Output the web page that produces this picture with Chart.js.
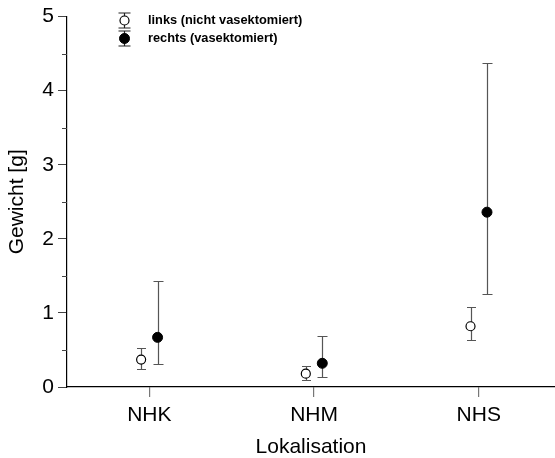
<!DOCTYPE html>
<html>
<head>
<meta charset="utf-8">
<script src="https://cdn.jsdelivr.net/npm/chart.js@4/dist/chart.umd.min.js"></script>
<style>
  html, body { margin: 0; padding: 0; background: #fff; }
  #wrap { width: 555px; height: 458px; }
</style>
</head>
<body>
<div id="wrap"><canvas id="c" width="555" height="458"></canvas></div>
<script>
// Gewicht je Lokalisation: Mittelwert mit Fehlerbereich
const categories = ['NHK', 'NHM', 'NHS'];

const linksMean = [0.37, 0.18, 0.82];
const linksLow  = [0.24, 0.10, 0.63];
const linksHigh = [0.53, 0.29, 1.08];

const rechtsMean = [0.67, 0.32, 2.36];
const rechtsLow  = [0.31, 0.14, 1.26];
const rechtsHigh = [1.43, 0.69, 4.38];

const yTicks = [0, 1, 2, 3, 4, 5];
const yMinorTicks = [0.5, 1.5, 2.5, 3.5, 4.5];

const legendLabels = ['links (nicht vasektomiert)', 'rechts (vasektomiert)'];

const FONT = '"Liberation Sans", Arial, sans-serif';
const SHIFT = 0.05; // horizontal offset of the two groups within a category

function points(means, lows, highs, dir) {
  return means.map((m, i) => ({ x: i + 0.5 + dir * SHIFT, y: m, lo: lows[i], hi: highs[i] }));
}

// error bars drawn behind the markers
const errorBars = {
  id: 'errorBars',
  beforeDatasetsDraw(chart) {
    const { ctx, scales: { x, y } } = chart;
    ctx.save();
    ctx.strokeStyle = '#555';
    ctx.lineWidth = 1.2;
    chart.data.datasets.forEach(ds => {
      const cap = ds.capHalf;
      ds.data.forEach(p => {
        const px = Math.round(x.getPixelForValue(p.x)) + 0.5;
        const yl = Math.round(y.getPixelForValue(p.lo)) + 0.5;
        const yh = Math.round(y.getPixelForValue(p.hi)) + 0.5;
        ctx.beginPath();
        ctx.moveTo(px, yl); ctx.lineTo(px, yh);
        ctx.moveTo(px - cap, yl); ctx.lineTo(px + cap, yl);
        ctx.moveTo(px - cap, yh); ctx.lineTo(px + cap, yh);
        ctx.stroke();
      });
    });
    ctx.restore();
  }
};

// minor ticks on the value axis
const minorTicks = {
  id: 'minorTicks',
  afterDraw(chart) {
    const { ctx, scales: { y }, chartArea } = chart;
    ctx.save();
    ctx.strokeStyle = '#444';
    ctx.lineWidth = 1;
    yMinorTicks.forEach(v => {
      const py = Math.round(y.getPixelForValue(v)) + 0.5;
      ctx.beginPath();
      ctx.moveTo(chartArea.left - 5, py);
      ctx.lineTo(chartArea.left, py);
      ctx.stroke();
    });
    ctx.restore();
  }
};

// legend with error-bar symbols
const symbolLegend = {
  id: 'symbolLegend',
  afterDraw(chart) {
    const { ctx } = chart;
    const sx = 124.5, tx = 148, rows = [20.5, 38.5];
    ctx.save();
    chart.data.datasets.forEach((ds, i) => {
      const cy = rows[i];
      ctx.strokeStyle = '#222';
      ctx.lineWidth = 1.2;
      ctx.beginPath();
      ctx.moveTo(sx, cy - 7.5); ctx.lineTo(sx, cy + 7.5);
      ctx.moveTo(sx - 6, cy - 7.5); ctx.lineTo(sx + 6, cy - 7.5);
      ctx.moveTo(sx - 6, cy + 7.5); ctx.lineTo(sx + 6, cy + 7.5);
      ctx.stroke();
      ctx.beginPath();
      ctx.arc(sx, cy, ds.pointRadius, 0, Math.PI * 2);
      ctx.fillStyle = ds.pointBackgroundColor;
      ctx.fill();
      ctx.lineWidth = ds.pointBorderWidth;
      ctx.strokeStyle = '#000';
      ctx.stroke();
      ctx.fillStyle = '#000';
      ctx.font = 'bold 12.8px ' + FONT;
      ctx.textBaseline = 'middle';
      ctx.textAlign = 'left';
      ctx.fillText(legendLabels[i], tx, cy);
    });
    ctx.restore();
  }
};

new Chart(document.getElementById('c'), {
  type: 'scatter',
  data: {
    datasets: [
      {
        label: legendLabels[0],
        data: points(linksMean, linksLow, linksHigh, -1),
        pointRadius: 4.5,
        pointBorderWidth: 1.2,
        pointBackgroundColor: '#fff',
        pointBorderColor: '#000',
        capHalf: 4.5
      },
      {
        label: legendLabels[1],
        data: points(rechtsMean, rechtsLow, rechtsHigh, 1),
        pointRadius: 5,
        pointBorderWidth: 1,
        pointBackgroundColor: '#000',
        pointBorderColor: '#000',
        capHalf: 5
      }
    ]
  },
  options: {
    responsive: false,
    animation: false,
    devicePixelRatio: 1,
    layout: { autoPadding: false, padding: { top: 15, right: 0, bottom: 0, left: 0 } },
    plugins: {
      legend: { display: false },
      tooltip: { enabled: false }
    },
    scales: {
      x: {
        type: 'linear',
        min: 0,
        max: 2.963,
        afterBuildTicks(scale) {
          scale.ticks = categories.map((c, i) => ({ value: i + 0.5 }));
        },
        afterFit(scale) {
          scale.height = 71;
          scale.paddingLeft = 0;
          scale.paddingRight = 0;
        },
        border: { display: true, color: '#000', width: 1.2 },
        grid: { drawOnChartArea: false, drawTicks: true, tickLength: 10, color: '#777', lineWidth: 1.2 },
        ticks: {
          autoSkip: false,
          maxRotation: 0,
          padding: 6,
          color: '#000',
          font: { family: FONT, size: 21 },
          callback(v) { return categories[Math.round(v - 0.5)]; }
        },
        title: {
          display: true,
          text: 'Lokalisation',
          color: '#000',
          font: { family: FONT, size: 21, lineHeight: 1 },
          padding: { top: 0, bottom: 0 }
        }
      },
      y: {
        min: 0,
        max: 5,
        afterBuildTicks(scale) {
          scale.ticks = yTicks.map(v => ({ value: v }));
        },
        afterFit(scale) { scale.width = 67; },
        border: { display: true, color: '#000', width: 1.2 },
        grid: { drawOnChartArea: false, drawTicks: true, tickLength: 9, color: '#444', lineWidth: 1 },
        ticks: {
          padding: 4,
          color: '#000',
          font: { family: FONT, size: 21 },
          callback(v) { return String(v); }
        },
        title: {
          display: true,
          text: 'Gewicht [g]',
          color: '#000',
          font: { family: FONT, size: 21, lineHeight: 1 },
          padding: { top: 7, bottom: 0 }
        }
      }
    }
  },
  plugins: [errorBars, minorTicks, symbolLegend]
});
</script>
</body>
</html>
